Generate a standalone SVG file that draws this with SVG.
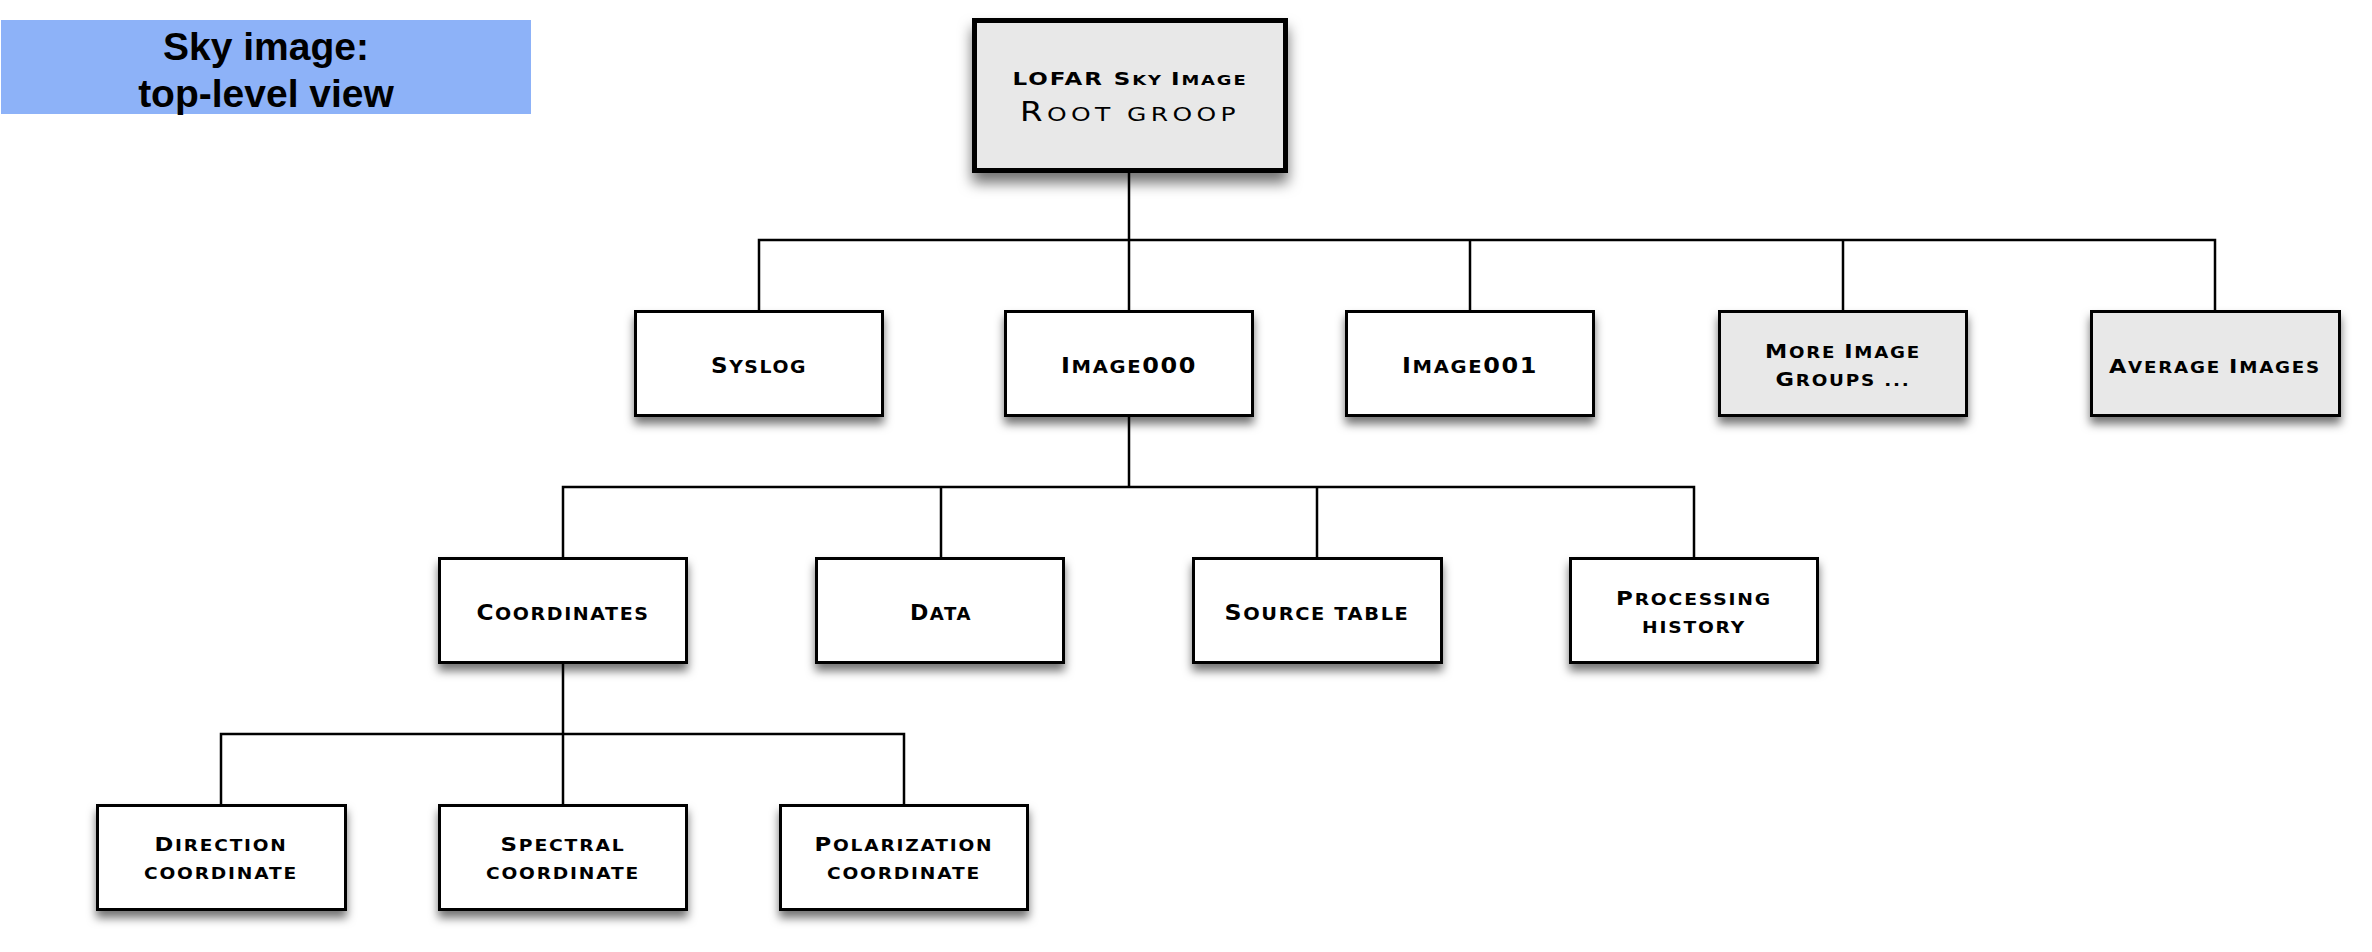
<svg xmlns="http://www.w3.org/2000/svg" width="2372" height="952" viewBox="0 0 2372 952">
<defs>
<filter id="sh" x="-20%" y="-20%" width="140%" height="160%">
<feDropShadow dx="0" dy="7" stdDeviation="5" flood-color="#000" flood-opacity="0.55"/>
</filter>
<filter id="shr" x="-20%" y="-20%" width="140%" height="160%">
<feDropShadow dx="0" dy="10" stdDeviation="7" flood-color="#000" flood-opacity="0.55"/>
</filter>
</defs>
<style>
.box{fill:#ffffff;stroke:#000;stroke-width:3;filter:url(#sh)}
.grey{fill:#e8e8e8}
.root{fill:#e8e8e8;stroke:#000;stroke-width:5;filter:url(#shr)}
.lbl{font-family:"DejaVu Sans",sans-serif;font-weight:bold;text-transform:uppercase;text-anchor:middle;fill:#000;letter-spacing:1.5px}
.l1{font-size:18px}
.l1 .B{font-size:22px}
.l2{font-size:15.5px}
.l2 .B{font-size:19px}
.r1{font-size:14px}
.r1 .B{font-size:18px}
.r2{font-size:20px;font-weight:normal;letter-spacing:3.5px}
.r2 .B{font-size:26px}
.title{font-family:"Liberation Sans",Arial,sans-serif;font-weight:bold;font-size:39px;text-anchor:middle;fill:#000}
.con{fill:none;stroke:#000;stroke-width:2.5}
</style>
<rect width="2372" height="952" fill="#ffffff"/>
<g id="title">
<rect x="1" y="20" width="530" height="94" fill="#8db2f8"/>
<text class="title" x="266" y="60">Sky image:</text>
<text class="title" x="266" y="107">top-level view</text>
</g>
<g id="connectors">
<path class="con" d="M1129,173 V240 M759,310 V240 H2215 V310 M1129,240 V310 M1470,240 V310 M1843,240 V310"/>
<path class="con" d="M1129,417 V487 M563,557 V487 H1694 V557 M941,487 V557 M1317,487 V557"/>
<path class="con" d="M563,664 V734 M221,804 V734 H904 V804 M563,734 V804"/>
</g>
<g id="root">
<rect class="root" x="974.5" y="20.5" width="311" height="150"/>
<text class="lbl r1" x="1130" y="85" textLength="235" lengthAdjust="spacingAndGlyphs"><tspan class="B">LOFAR S</tspan>ky <tspan class="B">I</tspan>mage</text>
<text class="lbl r2" x="1130" y="121" textLength="220" lengthAdjust="spacingAndGlyphs"><tspan class="B">R</tspan>oot groop</text>
</g>
<g id="syslog">
<rect class="box" x="635.5" y="311.5" width="247" height="104"/>
<text class="lbl l1" x="759" y="373" textLength="96" lengthAdjust="spacingAndGlyphs"><tspan class="B">S</tspan>yslog</text>
</g>
<g id="image000">
<rect class="box" x="1005.5" y="311.5" width="247" height="104"/>
<text class="lbl l1" x="1129" y="373" textLength="136" lengthAdjust="spacingAndGlyphs"><tspan class="B">I</tspan>mage<tspan class="B">000</tspan></text>
</g>
<g id="image001">
<rect class="box" x="1346.5" y="311.5" width="247" height="104"/>
<text class="lbl l1" x="1470" y="373" textLength="136" lengthAdjust="spacingAndGlyphs"><tspan class="B">I</tspan>mage<tspan class="B">001</tspan></text>
</g>
<g id="more">
<rect class="box grey" x="1719.5" y="311.5" width="247" height="104"/>
<text class="lbl l2" x="1843" y="358" textLength="156" lengthAdjust="spacingAndGlyphs"><tspan class="B">M</tspan>ore <tspan class="B">I</tspan>mage</text>
<text class="lbl l2" x="1843" y="386" textLength="135" lengthAdjust="spacingAndGlyphs"><tspan class="B">G</tspan>roups ...</text>
</g>
<g id="average">
<rect class="box grey" x="2091.5" y="311.5" width="248" height="104"/>
<text class="lbl l2" x="2215" y="373" textLength="212" lengthAdjust="spacingAndGlyphs"><tspan class="B">A</tspan>verage <tspan class="B">I</tspan>mages</text>
</g>
<g id="coordinates">
<rect class="box" x="439.5" y="558.5" width="247" height="104"/>
<text class="lbl l1" x="563" y="620" textLength="173" lengthAdjust="spacingAndGlyphs"><tspan class="B">C</tspan>oordinates</text>
</g>
<g id="data">
<rect class="box" x="816.5" y="558.5" width="247" height="104"/>
<text class="lbl l1" x="941" y="620" textLength="62" lengthAdjust="spacingAndGlyphs"><tspan class="B">D</tspan>ata</text>
</g>
<g id="source">
<rect class="box" x="1193.5" y="558.5" width="248" height="104"/>
<text class="lbl l1" x="1317" y="620" textLength="185" lengthAdjust="spacingAndGlyphs"><tspan class="B">S</tspan>ource table</text>
</g>
<g id="processing">
<rect class="box" x="1570.5" y="558.5" width="247" height="104"/>
<text class="lbl l2" x="1694" y="605" textLength="156" lengthAdjust="spacingAndGlyphs"><tspan class="B">P</tspan>rocessing</text>
<text class="lbl l2" x="1694" y="633" textLength="104" lengthAdjust="spacingAndGlyphs">history</text>
</g>
<g id="direction">
<rect class="box" x="97.5" y="805.5" width="248" height="104"/>
<text class="lbl l2" x="221" y="851" textLength="133" lengthAdjust="spacingAndGlyphs"><tspan class="B">D</tspan>irection</text>
<text class="lbl l2" x="221" y="879" textLength="154" lengthAdjust="spacingAndGlyphs">coordinate</text>
</g>
<g id="spectral">
<rect class="box" x="439.5" y="805.5" width="247" height="104"/>
<text class="lbl l2" x="563" y="851" textLength="125" lengthAdjust="spacingAndGlyphs"><tspan class="B">S</tspan>pectral</text>
<text class="lbl l2" x="563" y="879" textLength="154" lengthAdjust="spacingAndGlyphs">coordinate</text>
</g>
<g id="polarization">
<rect class="box" x="780.5" y="805.5" width="247" height="104"/>
<text class="lbl l2" x="904" y="851" textLength="179" lengthAdjust="spacingAndGlyphs"><tspan class="B">P</tspan>olarization</text>
<text class="lbl l2" x="904" y="879" textLength="154" lengthAdjust="spacingAndGlyphs">coordinate</text>
</g>
</svg>
